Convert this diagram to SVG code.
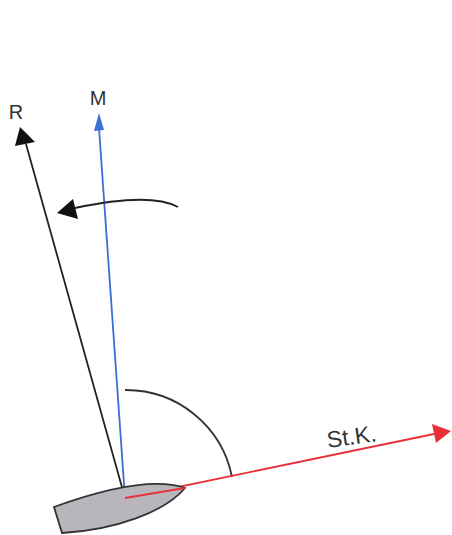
<svg xmlns="http://www.w3.org/2000/svg" width="452" height="535" viewBox="0 0 452 535">
<style>
.lbl{font-family:"Liberation Sans",Arial,sans-serif;font-size:20px;fill:#333}
.ln{fill:none;stroke-width:1.8}
</style>
<rect width="452" height="535" fill="#fff"/>
<g id="connectors">
<path class="ln" d="M125,390 A108,108 0 0 1 232,477" stroke="#333"/>
<line class="ln" x1="125" y1="498" x2="26" y2="144" stroke="#222"/>
<path d="M20,127 L15,146 L35,142 z" fill="#111"/>
<line class="ln" x1="125" y1="498" x2="99" y2="128" stroke="#3a6fd6"/>
<path d="M99,113 L94,131 L104,130 z" fill="#3a6fd6"/>
<line class="ln" x1="125" y1="498" x2="434" y2="434" stroke="#e8303a"/>
<path d="M451,431 L432,424 L436,443 z" fill="#e8303a"/>
<path class="ln" d="M178,207 Q150,192 75,208" stroke="#222"/>
<path d="M57,213 L73,199 L78,219 z" fill="#111"/>
</g>
<g id="boat">
<path d="M54,507 C90,494 150,476 185,488 C165,512 115,530 62,533 Z" fill="#b9b5bd" stroke="#333" stroke-width="1.8"/>
<line x1="125" y1="498" x2="185" y2="488" stroke="#e8303a" stroke-width="1.8"/>
</g>
<g id="label-R"><text class="lbl" x="16" y="119" text-anchor="middle">R</text></g>
<g id="label-M"><text class="lbl" x="98" y="105" text-anchor="middle">M</text></g>
<g id="label-StK"><text class="lbl" x="328" y="448" style="font-size:23px" transform="rotate(-8 328 448)">St.K.</text></g>
</svg>
